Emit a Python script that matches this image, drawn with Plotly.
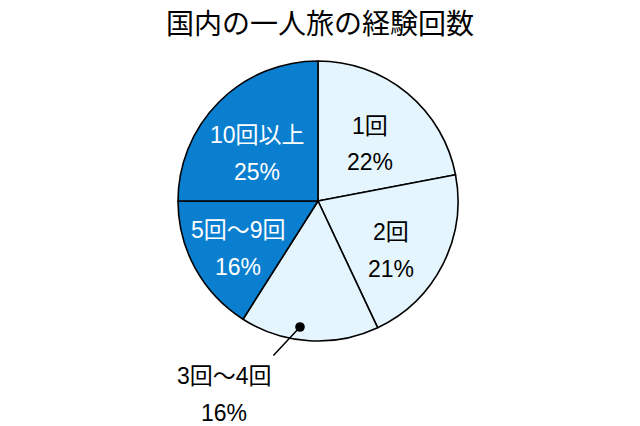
import plotly.graph_objects as go

# data
labels = ["1回", "2回", "3回～4回", "5回～9回", "10回以上"]
values = [22, 21, 16, 16, 25]
colors = ["#e5f5fd", "#e5f5fd", "#e5f5fd", "#0a7fd0", "#0a7fd0"]
title = "国内の一人旅の経験回数"

W, H = 640, 426
FONT = "Liberation Sans, Arial, Noto Sans CJK JP"

# label centers in pixels: (x, y of name line, y of percent line)
label_pos = [(370, 126, 162), (391, 232, 269), (224, 376, 413), (238, 230, 267), (257, 135, 172)]
text_colors = ["black", "black", "black", "white", "white"]

fig = go.Figure(go.Pie(
    labels=labels,
    values=values,
    sort=False,
    direction="clockwise",
    rotation=0,
    marker=dict(colors=colors, line=dict(color="black", width=1.6)),
    textinfo="none",
    hoverinfo="label+percent",
    domain=dict(x=[178 / W, 458 / W], y=[1 - 341 / H, 1 - 61 / H]),
    showlegend=False,
))

def px(x, y):
    return x / W, 1 - y / H

for lab, val, (x, y1, y2), tc in zip(labels, values, label_pos, text_colors):
    for txt, yy in ((lab, y1), (f"{val}%", y2)):
        ax_, ay_ = px(x, yy)
        fig.add_annotation(x=ax_, y=ay_, xref="paper", yref="paper", text=txt,
                           showarrow=False, xanchor="center", yanchor="middle",
                           font=dict(family=FONT, size=23, color=tc))

# leader line with dot for the outside label
dx, dy = px(300, 327)
fig.add_annotation(x=dx, y=dy, xref="paper", yref="paper", text="",
                   showarrow=True, arrowhead=6, arrowsize=1.6, arrowwidth=1.5,
                   arrowcolor="black", ax=-28, ay=30, standoff=0)

fig.update_layout(
    width=W, height=H,
    margin=dict(l=0, r=0, t=0, b=0),
    paper_bgcolor="white",
    title=dict(text=title, x=0.5, xanchor="center", y=1 - 24 / H, yanchor="middle",
               font=dict(family="Noto Sans CJK JP", size=28, color="black")),
)

# drop the default body margin so the figure sits at the window's corner
fig.write_html("out.html", config={"displayModeBar": False},
               post_script="document.body.style.margin='0px';")
